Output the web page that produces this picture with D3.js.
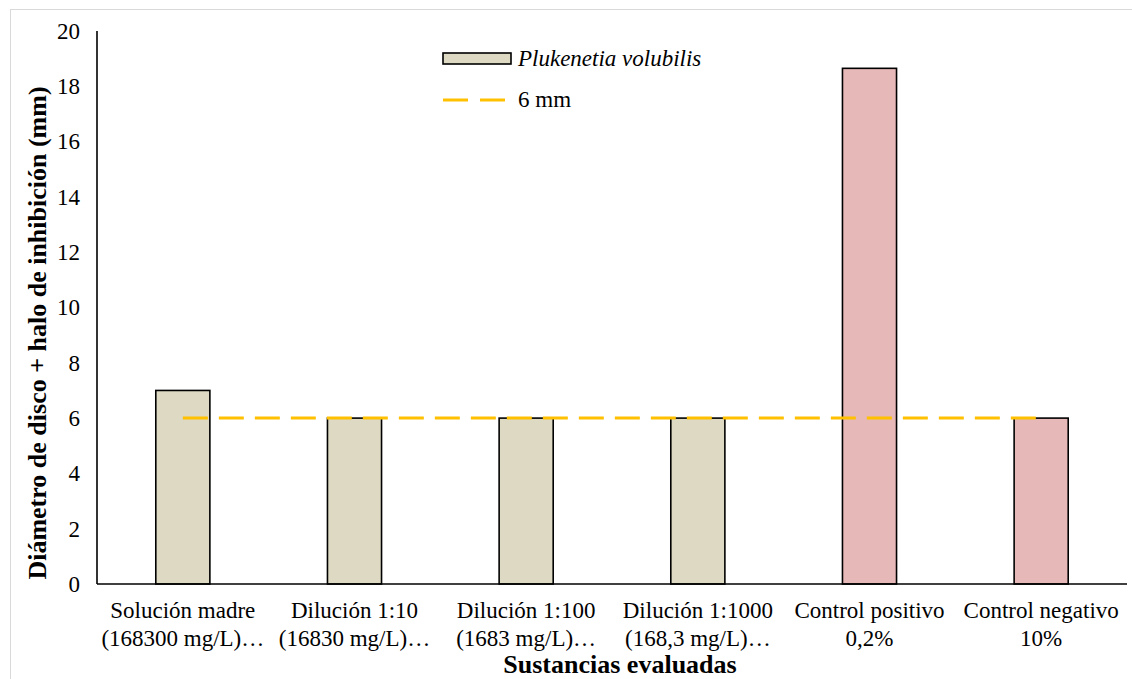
<!DOCTYPE html>
<html>
<head>
<meta charset="utf-8">
<script src="https://cdn.jsdelivr.net/npm/d3@7"></script>
</head>
<body style="margin:0;background:#fff">
<svg id="chart" width="1132" height="679" font-family="Liberation Serif" style="display:block"></svg>
<script>
// Inhibition zone diameters (mm) per evaluated substance
const categoriesLine1 = ["Solución madre", "Dilución 1:10", "Dilución 1:100", "Dilución 1:1000", "Control positivo", "Control negativo"];
const categoriesLine2 = ["(168300 mg/L)…", "(16830 mg/L)…", "(1683 mg/L)…", "(168,3 mg/L)…", "0,2%", "10%"];
const diameters = [7, 6, 6, 6, 18.65, 6];
const isControl = [false, false, false, false, true, true];
const referenceLine = [6, 6, 6, 6, 6, 6];
const yTicks = [0, 2, 4, 6, 8, 10, 12, 14, 16, 18, 20];
const seriesName = "Plukenetia volubilis";
const referenceName = "6 mm";

const FONT = "Liberation Serif";
const svg = d3.select("#chart");
const left = 97, right = 1127;

// outer chart border
svg.append("rect")
  .attr("x", 10.5).attr("y", 9.5)
  .attr("width", 1140).attr("height", 690)
  .attr("fill", "none").attr("stroke", "#d9d9d9").attr("stroke-width", 1);

const x = d3.scaleBand()
  .domain(d3.range(categoriesLine1.length))
  .range([left, right])
  .paddingInner(0.685)
  .paddingOuter(0.3425);

const y = d3.scaleLinear().domain([0, 20]).range([584, 31]);

// y tick labels
const yAxis = d3.axisLeft(y).tickValues(yTicks).tickSize(0).tickPadding(17);
const gy = svg.append("g").attr("transform", `translate(${left},0)`).call(yAxis);
gy.attr("font-family", FONT).attr("font-size", 23);
gy.select(".domain").remove();
gy.selectAll("text").attr("fill", "#000");

// bars
svg.append("g").selectAll("rect")
  .data(diameters)
  .join("rect")
  .attr("x", (d, i) => x(i))
  .attr("y", d => y(d))
  .attr("width", x.bandwidth())
  .attr("height", d => y(0) - y(d))
  .attr("fill", (d, i) => isControl[i] ? "#e6b8b7" : "#ddd9c3")
  .attr("stroke", "#000")
  .attr("stroke-width", 1.6);

// axis lines
svg.append("line")
  .attr("x1", left).attr("x2", left)
  .attr("y1", y(20)).attr("y2", y(0))
  .attr("stroke", "#000").attr("stroke-width", 1.6);
svg.append("line")
  .attr("x1", left).attr("x2", right)
  .attr("y1", y(0)).attr("y2", y(0))
  .attr("stroke", "#000").attr("stroke-width", 1.6);

// 6 mm reference line
const line = d3.line()
  .x((d, i) => x(i) + x.bandwidth() / 2)
  .y(d => y(d));
svg.append("path")
  .datum(referenceLine)
  .attr("d", line)
  .attr("fill", "none")
  .attr("stroke", "#ffc000")
  .attr("stroke-width", 3)
  .attr("stroke-dasharray", "25,11");

// category labels
const catG = svg.append("g").attr("font-family", FONT).attr("font-size", 23).attr("text-anchor", "middle");
categoriesLine1.forEach((c, i) => {
  const cx = x(i) + x.bandwidth() / 2;
  catG.append("text").attr("x", cx).attr("y", 618).text(c);
  catG.append("text").attr("x", cx).attr("y", 646).text(categoriesLine2[i]);
});

// axis titles
svg.append("text")
  .attr("x", 620).attr("y", 673)
  .attr("text-anchor", "middle")
  .attr("font-family", FONT).attr("font-size", 26).attr("font-weight", "bold")
  .text("Sustancias evaluadas");
svg.append("text")
  .attr("transform", "translate(46,333) rotate(-90)")
  .attr("text-anchor", "middle")
  .attr("font-family", FONT).attr("font-size", 26).attr("font-weight", "bold")
  .text("Diámetro de disco + halo de inhibición (mm)");

// legend
const lg = svg.append("g").attr("font-family", FONT).attr("font-size", 23);
lg.append("rect")
  .attr("x", 443).attr("y", 53).attr("width", 68).attr("height", 11)
  .attr("fill", "#ddd9c3").attr("stroke", "#000").attr("stroke-width", 1.6);
lg.append("text").attr("x", 518).attr("y", 66)
  .attr("font-style", "italic")
  .text(seriesName);
lg.append("line")
  .attr("x1", 443).attr("x2", 505).attr("y1", 100).attr("y2", 100)
  .attr("stroke", "#ffc000").attr("stroke-width", 3)
  .attr("stroke-dasharray", "25,12");
lg.append("text").attr("x", 518).attr("y", 107)
  .text(referenceName);
</script>
</body>
</html>
